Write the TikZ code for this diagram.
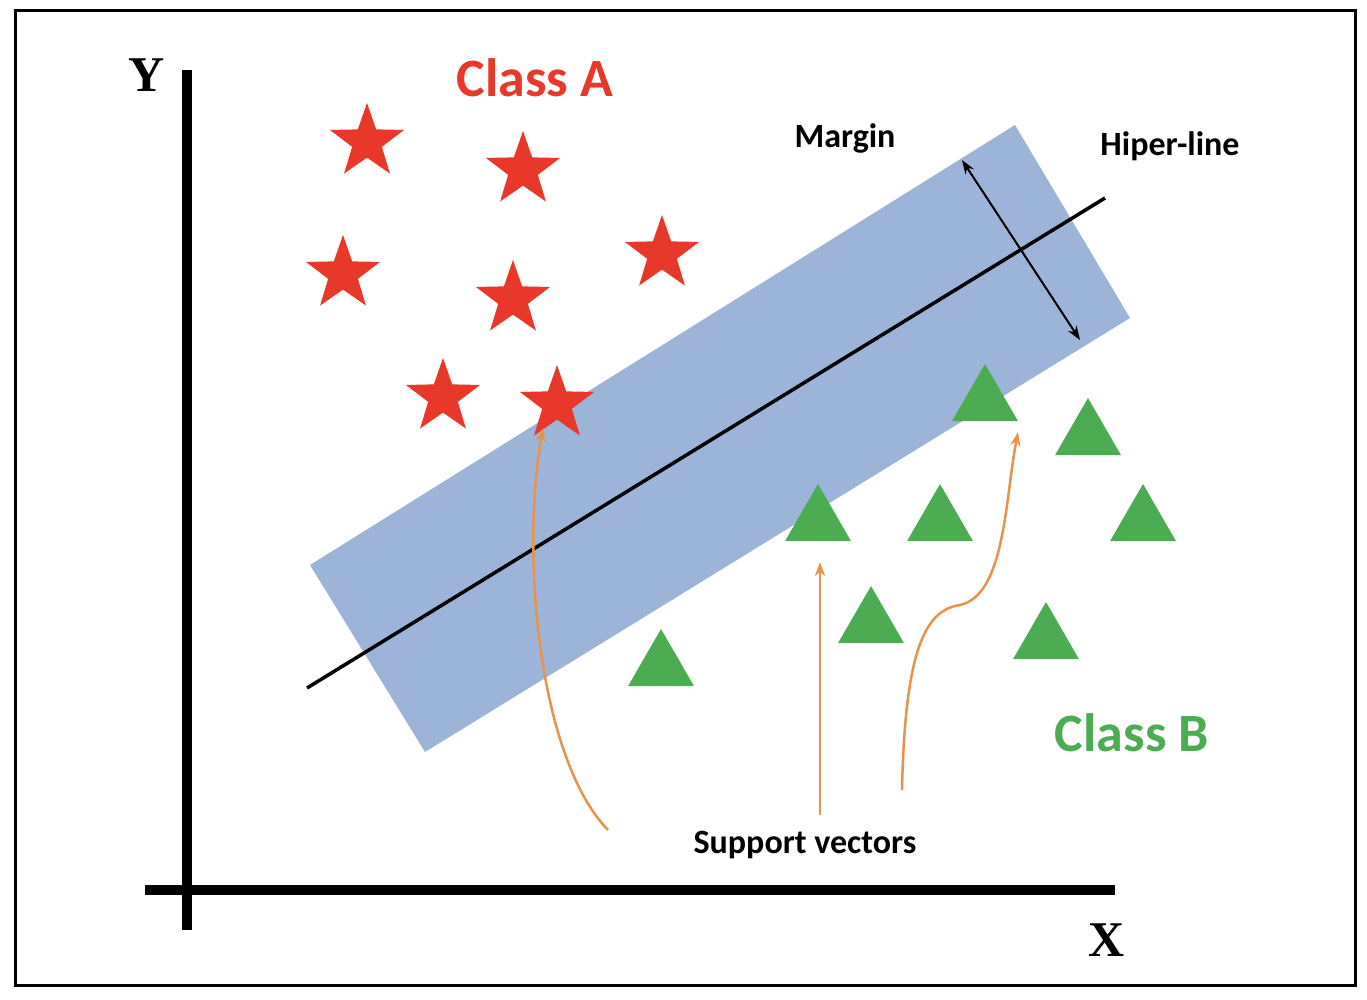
\documentclass[tikz,border=0pt]{standalone}
\usepackage{fontspec}
\setmainfont{Carlito}
\newfontfamily\serifax{Liberation Serif}
\usetikzlibrary{shapes.geometric,arrows.meta}
\definecolor{bandc}{RGB}{155,180,215}
\definecolor{starc}{RGB}{232,56,42}
\definecolor{tric}{RGB}{76,172,82}
\definecolor{orc}{RGB}{232,146,74}
\begin{document}
\begin{tikzpicture}[x=1pt,y=-1pt,
  st/.style={star,star points=5,star point ratio=2.5,fill=starc,minimum size=78pt,inner sep=0pt},
  tr/.style={regular polygon,regular polygon sides=3,fill=tric,minimum size=76pt,inner sep=0pt},
  lbl/.style={font=\fontsize{34}{36}\selectfont\bfseries},
  ax/.style={font=\serifax\fontsize{50}{50}\selectfont\bfseries},
  sv/.style={orc,line width=2.5pt,-{Stealth[length=14pt,width=10pt]}}]
\fill[white] (0,0) rectangle (1367,999);
\useasboundingbox (0,0) rectangle (1367,999);
\draw[line width=3pt] (15,10) rectangle (1355,985);
% band
\fill[bandc] (310,565) -- (1015,125) -- (1130,318) -- (425,752) -- cycle;
% axes
\draw[line width=10pt] (187,70) -- (187,930);
\draw[line width=10pt] (145,890) -- (1115,890);
\node[ax] (Y) at (147,75) {Y};
\node[ax] (X) at (1107,940) {X};
% hyperline
\coordinate (h1) at (307,688); \coordinate (h2) at (1105,198);
\draw[line width=3.5pt] (h1) -- (h2);
\coordinate (m1) at (962,160); \coordinate (m2) at (1080,340);
\draw[line width=2pt,{Stealth[length=14pt,width=10pt]}-{Stealth[length=14pt,width=10pt]}] (m1) -- (m2);
\node[lbl] (margin) at (845,138) {Margin};
\node[lbl] (hl) at (1170,146) {Hiper-line};
\node[font=\fontsize{54}{56}\selectfont\bfseries,text=starc] (ca) at (535,78) {Class A};
\node[font=\fontsize{54}{56}\selectfont\bfseries,text=tric] (cb) at (1132,733) {Class B};
% stars
\foreach \n/\x/\y in {s1/367/142,s2/523/170,s3/343/274,s4/513/299,s5/662/254,s6/443/397,s7/557/404}
  \node[st] (\n) at (\x,\y) {};
% triangles
\foreach \n/\x/\y in {t1/985/402,t2/1088/436,t3/818/522,t4/940/522,t5/1143/522,t6/871/624,t7/1046/640,t8/661/667}
  \node[tr] (\n) at (\x,\y) {};
\node[lbl] (sv) at (805,845) {Support vectors};
\coordinate (a1) at (608,830); \coordinate (a1e) at (543,428);
\draw[sv] (a1) .. controls (540,760) and (520,560) .. (a1e);
\coordinate (a2) at (820,815); \coordinate (a2e) at (820,562);
\draw[sv] (a2) -- (a2e);
\coordinate (a3) at (902,790); \coordinate (a3m) at (960,605); \coordinate (a3e) at (1018,432);
\draw[sv] (a3) .. controls (905,650) and (925,610) .. (a3m) .. controls (1005,595) and (1005,500) .. (a3e);
\end{tikzpicture}
\end{document}
